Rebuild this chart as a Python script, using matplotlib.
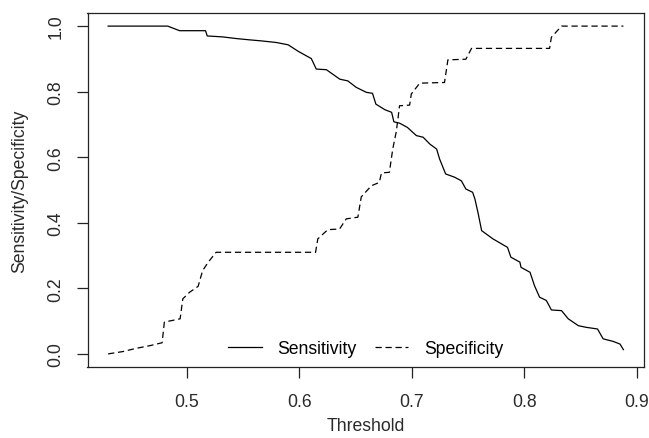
import matplotlib
matplotlib.use("Agg")
import matplotlib.pyplot as plt
import numpy as np

# ── data ──
sens_thr = [0.430, 0.483, 0.4935, 0.5166, 0.5181, 0.532, 0.544, 0.556, 0.566, 0.5795,
            0.590, 0.599, 0.6106, 0.615, 0.624, 0.636, 0.643, 0.6506, 0.6595, 0.665,
            0.668, 0.676, 0.682, 0.684, 0.689, 0.696, 0.704, 0.710, 0.716, 0.722,
            0.7246, 0.730, 0.738, 0.744, 0.748, 0.754, 0.756, 0.759, 0.762, 0.772,
            0.785, 0.788, 0.796, 0.797, 0.805, 0.809, 0.8135, 0.8195, 0.824, 0.833,
            0.839, 0.848, 0.855, 0.865, 0.870, 0.879, 0.885, 0.888]
sens_val = [1.000, 1.000, 0.986, 0.986, 0.970, 0.967, 0.962, 0.958, 0.955, 0.950,
            0.943, 0.923, 0.901, 0.869, 0.867, 0.838, 0.833, 0.813, 0.798, 0.795,
            0.762, 0.745, 0.737, 0.708, 0.704, 0.691, 0.666, 0.661, 0.640, 0.625,
            0.595, 0.549, 0.539, 0.528, 0.503, 0.493, 0.473, 0.427, 0.376, 0.351,
            0.325, 0.295, 0.280, 0.264, 0.249, 0.208, 0.173, 0.163, 0.134, 0.132,
            0.107, 0.086, 0.081, 0.076, 0.046, 0.038, 0.030, 0.013]

spec_thr = [0.430, 0.443, 0.455, 0.467, 0.478, 0.480, 0.494, 0.4964, 0.5024, 0.510,
            0.514, 0.519, 0.526, 0.6144, 0.6164, 0.6253, 0.6357, 0.6417, 0.652, 0.655,
            0.664, 0.671, 0.673, 0.680, 0.683, 0.686, 0.6876, 0.689, 0.698, 0.6995,
            0.707, 0.729, 0.732, 0.748, 0.753, 0.8224, 0.824, 0.833, 0.888]
spec_val = [0.000, 0.007, 0.017, 0.025, 0.034, 0.097, 0.107, 0.168, 0.188, 0.206,
            0.254, 0.280, 0.310, 0.310, 0.351, 0.379, 0.381, 0.412, 0.417, 0.479,
            0.513, 0.523, 0.552, 0.554, 0.625, 0.676, 0.716, 0.757, 0.759, 0.793,
            0.826, 0.828, 0.897, 0.899, 0.932, 0.932, 0.966, 1.000, 1.000]

x_ticks = [0.5, 0.6, 0.7, 0.8, 0.9]
y_ticks = [0.0, 0.2, 0.4, 0.6, 0.8, 1.0]

plt.rcParams['font.family'] = ['Liberation Sans', 'DejaVu Sans']
fs = 12.7
txt = '#2a2a2a'

fig = plt.figure(figsize=(6.49, 4.39), dpi=100)
ax = fig.add_axes([87.5 / 649, 1 - 368 / 439, (644 - 87.5) / 649, (368 - 14) / 439])

ax.plot(sens_thr, sens_val, color='black', lw=0.9, label='Sensitivity')
ax.plot(spec_thr, spec_val, color='black', lw=0.9, dashes=(5, 3), label='Specificity')

# R style 4% padding
lo, hi = min(sens_thr + spec_thr), max(sens_thr + spec_thr)
pad = (hi - lo) * 0.04
ax.set_xlim(lo - pad, hi + pad)
ax.set_ylim(-0.04, 1.04)

ax.set_xticks(x_ticks)
ax.set_xticklabels([f'{v:.1f}' for v in x_ticks], fontsize=fs, color=txt)
ax.set_yticks(y_ticks)
ax.set_yticklabels([f'{v:.1f}' for v in y_ticks], fontsize=fs, rotation=90,
                   va='center', color=txt)
ax.tick_params(axis='both', length=7.9, width=0.9, color='#222222')
ax.tick_params(axis='x', pad=11)
ax.tick_params(axis='y', pad=8.5)
for s in ax.spines.values():
    s.set_linewidth(0.9)
    s.set_color('#222222')

ax.set_xlabel('Threshold', fontsize=fs, color=txt, labelpad=5)
ax.set_ylabel('Sensitivity/Specificity', fontsize=fs, color=txt, labelpad=14)

ax.legend(loc='lower center', ncol=2, frameon=False, fontsize=fs,
          handlelength=1.9, handletextpad=0.9, columnspacing=1.0,
          borderaxespad=0.15)

fig.savefig('out.png', dpi=100)
